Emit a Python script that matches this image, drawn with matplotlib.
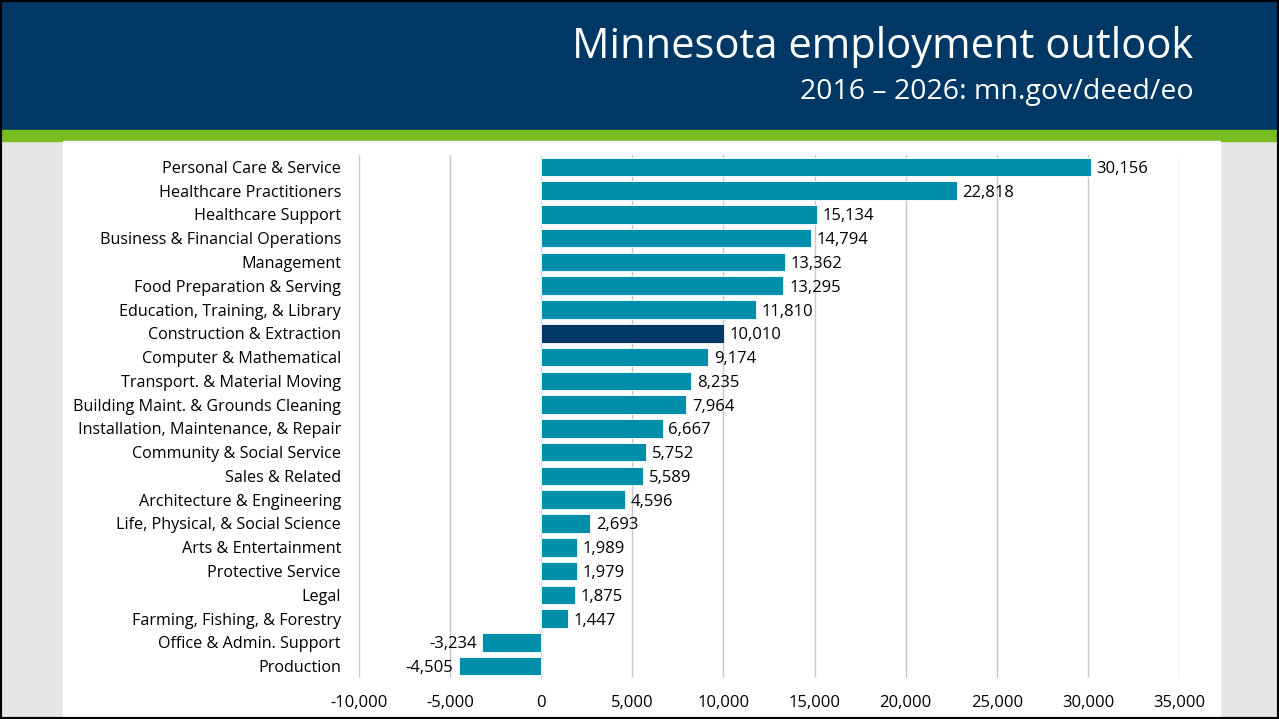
import matplotlib.pyplot as plt
from matplotlib.patches import Rectangle

categories = [
    "Personal Care & Service", "Healthcare Practitioners", "Healthcare Support",
    "Business & Financial Operations", "Management", "Food Preparation & Serving",
    "Education, Training, & Library", "Construction & Extraction",
    "Computer & Mathematical", "Transport. & Material Moving",
    "Building Maint. & Grounds Cleaning", "Installation, Maintenance, & Repair",
    "Community & Social Service", "Sales & Related", "Architecture & Engineering",
    "Life, Physical, & Social Science", "Arts & Entertainment", "Protective Service",
    "Legal", "Farming, Fishing, & Forestry", "Office & Admin. Support", "Production",
]
values = [30156, 22818, 15134, 14794, 13362, 13295, 11810, 10010, 9174, 8235,
          7964, 6667, 5752, 5589, 4596, 2693, 1989, 1979, 1875, 1447, -3234, -4505]
highlight = "Construction & Extraction"
xticks = list(range(-10000, 35001, 5000))

navy = "#003865"
teal = "#008fab"
green = "#78be21"

plt.rcParams['font.family'] = ['Open Sans', 'DejaVu Sans']

W, H = 1279, 719
fig = plt.figure(figsize=(W / 100, H / 100), dpi=100)
fig.patch.set_facecolor("#e6e6e6")

# background pieces (header, green stripe, white panel) behind the axes
fig.patches.append(Rectangle((0, 1 - 130 / H), 1, 130 / H, transform=fig.transFigure,
                             color=navy, zorder=-10))
fig.patches.append(Rectangle((0, 1 - 141 / H), 1, 11 / H, transform=fig.transFigure,
                             color=green, zorder=-10))
fig.patches.append(Rectangle((63 / W, 0), (1220 - 63) / W, 1 - 141 / H,
                             transform=fig.transFigure, color="white", zorder=-10))
fig.patches.append(Rectangle((0, 0), 1, 1, transform=fig.transFigure, fill=False,
                             edgecolor="black", linewidth=3, zorder=5))

fig.text(1193 / W, 1 - 47 / H, "Minnesota employment outlook", color="white",
         fontsize=30, ha="right", va="center")
fig.text(1193 / W, 1 - 92 / H, "2016 \u2013 2026: mn.gov/deed/eo", color="white",
         fontsize=20.5, ha="right", va="center")

ax = fig.add_axes([359 / W, 1 - 678 / H, (1179 - 359) / W, (678 - 155) / H])
ax.set_facecolor("none")

ypos = list(range(len(categories)))
colors = [navy if c == highlight else teal for c in categories]
ax.barh(ypos, values, height=0.78, color=colors, edgecolor="white", linewidth=0.6,
        zorder=3)
ax.axvline(0, color="#d0dde6", linewidth=0.8, zorder=2)

for y, v in zip(ypos, values):
    label = f"{v:,}"
    if v >= 0:
        ax.annotate(label, (v, y), xytext=(4, 0), textcoords="offset points",
                    ha="left", va="center_baseline", fontsize=12, color="black")
    else:
        ax.annotate(label, (v, y), xytext=(-4, 0), textcoords="offset points",
                    ha="right", va="center_baseline", fontsize=12, color="black")

ax.set_xlim(-10000, 35000)
ax.set_ylim(len(categories) - 0.5, -0.5)
ax.set_xticks(xticks)
ax.set_xticklabels([f"{t:,}" for t in xticks], fontsize=12)
ax.set_yticks(ypos)
ax.set_yticklabels(categories, fontsize=11.6, va="center_baseline")
ax.tick_params(axis="both", length=0)
ax.tick_params(axis="x", pad=12)
ax.tick_params(axis="y", pad=13)
ax.grid(axis="x", color="#c8c8c8", linewidth=1, zorder=0)
for s in ax.spines.values():
    s.set_visible(False)

fig.savefig("out.png", dpi=100, facecolor=fig.get_facecolor())
